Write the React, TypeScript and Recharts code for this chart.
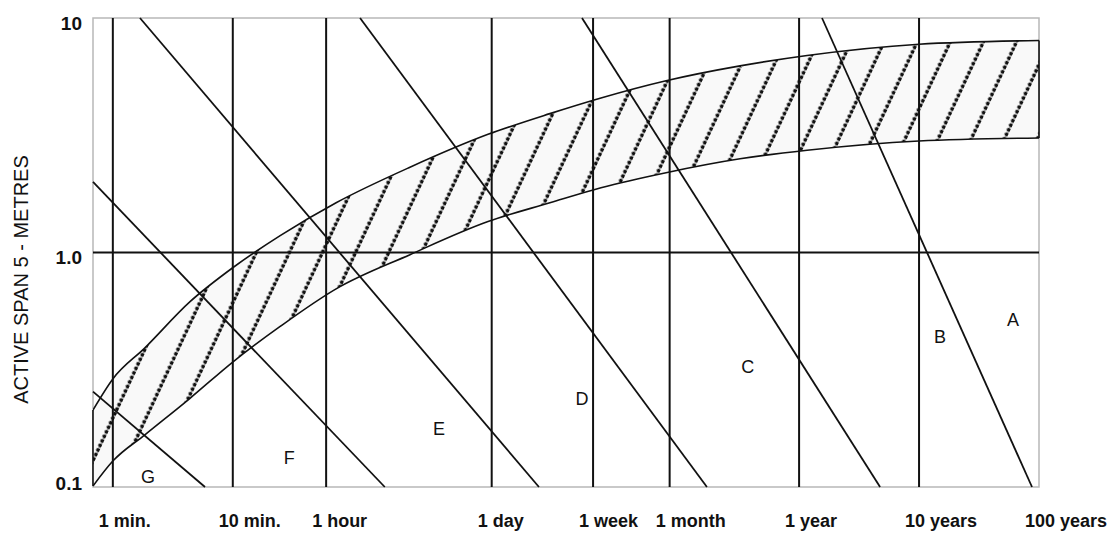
import {
  Area,
  ComposedChart,
  Line,
  ReferenceArea,
  ReferenceDot,
  ReferenceLine,
  XAxis,
  YAxis,
} from "recharts";

const FONT = "'Liberation Sans', Arial, sans-serif";
const INK = "#111";

// time axis, seconds (log)
const timeDomain = [41, 3155760000];
const tickSeconds = [60, 600, 3600, 86400, 604800, 2629800, 31557600, 315576000, 3155760000];
const tickLabels = ["1 min.", "10 min.", "1 hour", "1 day", "1 week", "1 month", "1 year", "10 years", "100 years"];

// active span, metres (log)
const spanDomain = [0.1, 10];
const spanTicks = [0.1, 1, 10];

// hatched band
const bandTime = [41, 60, 111, 264, 603, 1490, 4360, 18000, 80500, 264000, 704000, 2455000, 10160000, 36800000, 315000000, 3155760000];
const bandLow = [0.101, 0.129, 0.167, 0.239, 0.342, 0.484, 0.7, 0.979, 1.355, 1.63, 1.89, 2.19, 2.51, 2.73, 2.99, 3.08];
const bandHigh = [0.213, 0.289, 0.392, 0.617, 0.863, 1.18, 1.63, 2.31, 3.19, 3.91, 4.56, 5.4, 6.25, 6.92, 7.73, 8.02];

// boundary lines between the zones
const lineGF = [{ t: 41, m: 0.255 }, { t: 352, m: 0.1 }];
const lineFE = [{ t: 41, m: 2.0 }, { t: 11100, m: 0.1 }];
const lineED = [{ t: 101, m: 10 }, { t: 214000, m: 0.1 }];
const lineDC = [{ t: 6900, m: 10 }, { t: 5380000, m: 0.1 }];
const lineCB = [{ t: 489000, m: 10 }, { t: 149400000, m: 0.1 }];
const lineBA = [{ t: 49000000, m: 10 }, { t: 2760000000, m: 0.1 }];
const boundaries = [lineGF, lineFE, lineED, lineDC, lineCB, lineBA];

// zone letters
const zoneNames = ["G", "F", "E", "D", "C", "B", "A"];
const zoneTime = [118, 1770, 31400, 489000, 11800000, 472000000, 1914000000];
const zoneSpan = [0.111, 0.134, 0.177, 0.239, 0.325, 0.436, 0.516];

const bandRows = bandTime.map((t, i) => ({ t, lo: bandLow[i], hi: bandHigh[i] }));
const last = bandRows.length - 1;

const TimeTick = ({ x, y, payload }: any) => (
  <text
    x={x - 14}
    y={y + 34}
    textAnchor="start"
    dominantBaseline="central"
    fontSize={18}
    fontWeight="bold"
    fontFamily={FONT}
    fill={INK}
  >
    {tickLabels[tickSeconds.indexOf(payload.value)]}
  </text>
);

const SpanTick = ({ x, y, payload }: any) => (
  <text
    x={x - 11}
    y={y + (payload.value <= 0.1 ? -4 : 5)}
    textAnchor="end"
    dominantBaseline="central"
    fontSize={19}
    fontWeight="bold"
    fontFamily={FONT}
    fill={INK}
  >
    {payload.value >= 10 ? "10" : payload.value.toFixed(1)}
  </text>
);

const SpanTitle = ({ viewBox }: any) => {
  const cx = 13;
  const cy = viewBox.y + viewBox.height / 2 + 27;
  return (
    <text
      x={cx}
      y={cy}
      transform={`rotate(-90, ${cx}, ${cy})`}
      textAnchor="middle"
      dominantBaseline="central"
      fontSize={20}
      fontFamily={FONT}
      fill={INK}
    >
      ACTIVE SPAN 5 - METRES
    </text>
  );
};

export default function App() {
  return (
    <ComposedChart
      width={1107}
      height={526}
      data={bandRows}
      margin={{ top: 10, right: 76, bottom: 0, left: 0 }}
    >
      <defs>
        <pattern
          id="hatch"
          patternUnits="userSpaceOnUse"
          width={30}
          height={5}
          patternTransform="rotate(25)"
        >
          <rect width={30} height={5} fill="#f9f9f9" />
          <circle cx={28.4} cy={2.5} r={2} fill={INK} />
        </pattern>
      </defs>
      <XAxis
        dataKey="t"
        type="number"
        scale="log"
        domain={timeDomain}
        allowDataOverflow
        ticks={tickSeconds}
        interval={0}
        tick={<TimeTick />}
        tickLine={false}
        axisLine={false}
        tickSize={0}
        tickMargin={0}
        height={47}
      />
      <YAxis
        type="number"
        scale="log"
        domain={spanDomain}
        allowDataOverflow
        ticks={spanTicks}
        interval={0}
        tick={<SpanTick />}
        tickLine={false}
        axisLine={false}
        tickSize={0}
        tickMargin={0}
        width={85}
        label={<SpanTitle />}
      />
      <ReferenceArea
        x1={timeDomain[0]}
        x2={timeDomain[1]}
        y1={spanDomain[0]}
        y2={spanDomain[1]}
        fill="none"
        stroke="#b8b8b8"
        strokeWidth={1.5}
        ifOverflow="visible"
      />
      <Area
        type="monotone"
        dataKey={(d: any) => [d.lo, d.hi]}
        stroke="none"
        fill="url(#hatch)"
        fillOpacity={1}
        isAnimationActive={false}
      />
      <Line type="monotone" dataKey="hi" stroke={INK} strokeWidth={1.6} dot={false} isAnimationActive={false} />
      <Line type="monotone" dataKey="lo" stroke={INK} strokeWidth={1.6} dot={false} isAnimationActive={false} />
      {[0, last].map((i) => (
        <ReferenceLine
          key={`edge-${i}`}
          segment={[
            { x: bandRows[i].t, y: bandRows[i].lo },
            { x: bandRows[i].t, y: bandRows[i].hi },
          ]}
          stroke={INK}
          strokeWidth={1.6}
          ifOverflow="visible"
        />
      ))}
      {tickSeconds.slice(0, -1).map((t) => (
        <ReferenceLine key={`g-${t}`} x={t} stroke={INK} strokeWidth={2} />
      ))}
      <ReferenceLine y={1} stroke={INK} strokeWidth={2} />
      {boundaries.map((b, i) => (
        <ReferenceLine
          key={`b-${i}`}
          segment={[
            { x: b[0].t, y: b[0].m },
            { x: b[1].t, y: b[1].m },
          ]}
          stroke={INK}
          strokeWidth={1.8}
          ifOverflow="visible"
        />
      ))}
      {zoneNames.map((name, i) => (
        <ReferenceDot
          key={name}
          x={zoneTime[i]}
          y={zoneSpan[i]}
          r={0}
          fill="none"
          stroke="none"
          ifOverflow="visible"
          label={{ value: name, position: "center", fontSize: 18, fill: INK, fontFamily: FONT }}
        />
      ))}
    </ComposedChart>
  );
}
